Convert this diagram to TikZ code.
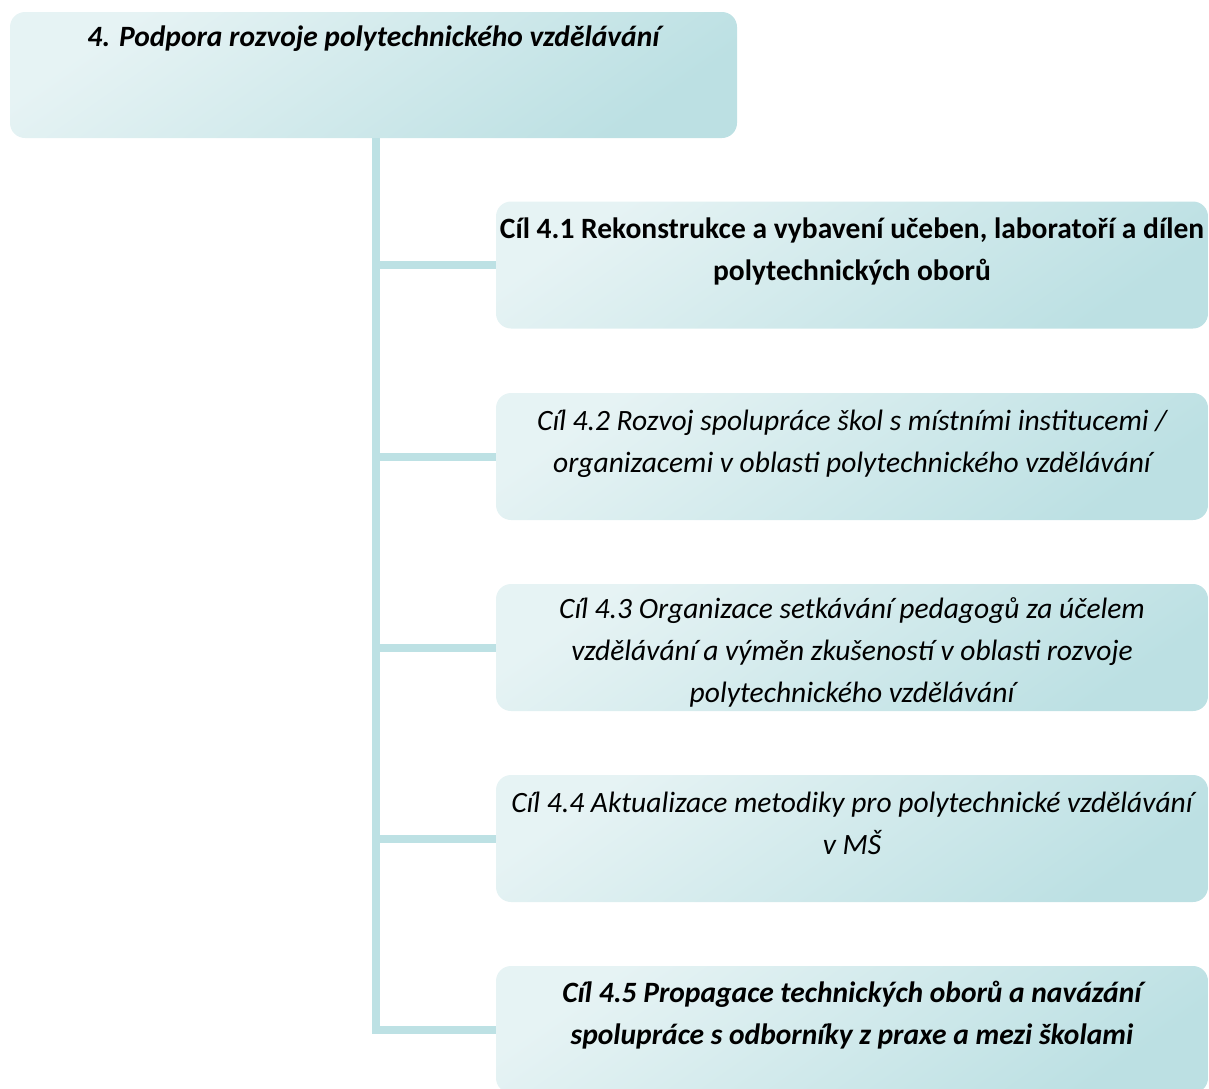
\documentclass[tikz,border=0pt]{standalone}
\usepackage{fontspec}
\setmainfont{Carlito}
\usetikzlibrary{calc}
\usetikzlibrary{positioning}

\definecolor{boxlight}{HTML}{E6F3F4}
\definecolor{boxdark}{HTML}{BCE0E3}
\definecolor{spinecol}{HTML}{BDE1E4}

\tikzset{
  goalbox/.style={rounded corners=15pt, top color=boxlight,
    bottom color=boxdark, shading angle=35, draw=none,
    minimum width=712pt, minimum height=127pt, inner sep=0pt},
  goaltext/.style={align=center, text=black, inner sep=0pt},
  branch/.style={draw=spinecol, line width=8pt}
}
\newcommand{\goalfont}{\fontsize{29.5}{42}\selectfont}

\begin{document}
\begin{tikzpicture}[x=1pt, y=-1pt]
  \useasboundingbox (0, 0) rectangle (1209, 1088);
  % priority box
  \node[goalbox, minimum width=727pt, minimum height=126pt]
    (prio) at (373.5, 75) {};
  \node[goaltext, font=\goalfont\bfseries\itshape,
        below=14pt of prio.north] (priolabel)
    {4. Podpora rozvoje polytechnického vzdělávání};
  % goal boxes
  \foreach \i/\y in {1/265, 2/456.5, 3/647.5, 4/838.5, 5/1029.5}{
    \node[goalbox] (g\i) at (852, \y) {};
  }
  \coordinate (spine) at (376, 138);
  \draw[branch] (spine) |- (g5.west);
  \foreach \i in {1, 2, 3, 4}{
    \draw[branch] (spine |- g\i.west) -- (g\i.west);
  }
  % goal texts
  \node[goaltext, font=\goalfont\bfseries,
        below=16pt of g1.north] (t1)
    {Cíl 4.1 Rekonstrukce a vybavení učeben, laboratoří a dílen\\
     polytechnických oborů};
  \node[goaltext, font=\goalfont\itshape,
        below=17pt of g2.north] (t2)
    {Cíl 4.2 Rozvoj spolupráce škol s místními institucemi /\\
     organizacemi v oblasti polytechnického vzdělávání};
  \node[goaltext, font=\goalfont\itshape,
        below=14pt of g3.north] (t3)
    {Cíl 4.3 Organizace setkávání pedagogů za účelem\\
     vzdělávání a výměn zkušeností v oblasti rozvoje\\
     polytechnického vzdělávání};
  \node[goaltext, font=\goalfont\itshape,
        below=17pt of g4.north] (t4)
    {Cíl 4.4 Aktualizace metodiky pro polytechnické vzdělávání\\
     v MŠ};
  \node[goaltext, font=\goalfont\bfseries\itshape,
        below=15pt of g5.north] (t5)
    {Cíl 4.5 Propagace technických oborů a navázání\\
     spolupráce s odborníky z praxe a mezi školami};
\end{tikzpicture}
\end{document}
